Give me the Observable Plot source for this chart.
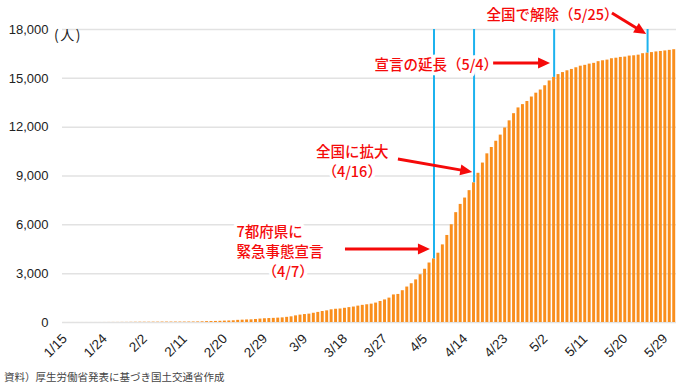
<!DOCTYPE html>
<html>
<head>
<meta charset="utf-8">
<script src="https://cdn.jsdelivr.net/npm/d3@7"></script>
<script src="https://cdn.jsdelivr.net/npm/@observablehq/plot@0.6"></script>
<style>
  body { margin: 0; background: #fff; }
  #chart { position: relative; width: 687px; }
  #unit { position: absolute; left: 54px; top: 26px; font-family: "Noto Sans CJK JP"; font-size: 14px; line-height: 16px; letter-spacing: 1.5px; color: #222; }
  #cap { font-family: "Noto Sans CJK JP"; font-size: 10.5px; color: #444; height: 21px; line-height: 21px; padding-left: 4px; white-space: nowrap; }
</style>
</head>
<body>
<div id="chart"><div id="unit">(人)</div></div>
<div id="cap">資料）厚生労働省発表に基づき国土交通省作成</div>
<script>
// Cumulative confirmed cases (persons), one value per day from 2020-01-15 to 2020-05-31
const startDate = "2020-01-15";
const endDate = "2020-06-01";
const cases = [
  // Jan 15 - Jan 31
  1, 1, 1, 1, 1, 1, 1, 1, 1, 2, 3, 4, 4, 7, 7, 11, 14,
  // Feb 1 - Feb 29
  17, 17, 17, 20, 20, 25, 25, 25, 26, 26, 26, 28, 29, 33, 41, 53, 59, 65, 73, 85,
  93, 105, 132, 144, 157, 164, 186, 210, 230,
  // Mar 1 - Mar 31
  243, 254, 268, 284, 317, 348, 407, 454, 488, 514, 568, 620, 675, 716, 780, 814,
  829, 873, 914, 950, 1007, 1054, 1089, 1128, 1193, 1291, 1387, 1499, 1693, 1724, 1953,
  // Apr 1 - Apr 30
  2178, 2381, 2617, 2935, 3271, 3654, 3906, 4257, 4768, 5347, 6005, 6748, 7255, 7645,
  8100, 8582, 9167, 9795, 10361, 10751, 11135, 11512, 11950, 12388, 12829, 13182,
  13385, 13576, 13852, 14088,
  // May 1 - May 31
  14281, 14544, 14839, 15057, 15231, 15354, 15463, 15547, 15649, 15747, 15798, 15874,
  15921, 16023, 16079, 16120, 16203, 16237, 16285, 16305, 16367, 16385, 16424, 16513,
  16550, 16581, 16623, 16651, 16683, 16719, 16759
];
const tickLabels = ["1/15","1/24","2/2","2/11","2/20","2/29","3/9","3/18","3/27","4/5","4/14","4/23","5/2","5/11","5/20","5/29"];
const yTicks = [0, 3000, 6000, 9000, 12000, 15000, 18000];
const eventDates = ["2020-04-07", "2020-04-16", "2020-05-04", "2020-05-25"];

// annotation texts: position as day offset from startDate and value
const labelText = ["全国で解除（5/25）", "宣言の延長（5/4）", "全国に拡大", "（4/16）", "7都府県に", "緊急事態宣言", "（4/7）"];
const labelDay = [95.3, 70.1, 65.1, 65.1, 39.1, 39.1, 50.7];
const labelValue = [18860, 15790, 10460, 9230, 5550, 4320, 3090];
const labelAnchor = ["start", "start", "middle", "middle", "start", "start", "middle"];

// arrows: from (day, value) to (day, value)
const arrowDay1 = [123.6, 96.9, 75.5, 63.6];
const arrowValue1 = [18980, 15910, 10010, 4490];
const arrowDay2 = [131.3, 109.7, 92.2, 82.7];
const arrowValue2 = [17690, 15910, 9215, 4490];

const ORANGE = "#f98e1d", BLUE = "#1cb2ee", RED = "#f50a0a";

const start = new Date(startDate + "T00:00:00Z");
const dayToDate = (d) => new Date(start.getTime() + d * 864e5);
const data = cases.map((v, i) => ({date: d3.utcDay.offset(start, i), value: v}));
const valueOf = new Map(data.map(d => [d.date.getTime(), d.value]));

const tickDates = tickLabels.map(s => {
  const [m, d] = s.split("/").map(Number);
  return new Date(Date.UTC(2020, m - 1, d, 12));
});
const tickMap = new Map(tickDates.map((d, i) => [d.getTime(), tickLabels[i]]));

const events = eventDates.map(s => {
  const d = new Date(s + "T00:00:00Z");
  return {x: new Date(d.getTime() + 12 * 3600e3), v: valueOf.get(d.getTime())};
});

const labels = labelText.map((t, i) => ({text: t, x: dayToDate(labelDay[i]), y: labelValue[i], anchor: labelAnchor[i]}));
const arrows = arrowDay1.map((d, i) => ({x1: dayToDate(d), y1: arrowValue1[i], x2: dayToDate(arrowDay2[i]), y2: arrowValue2[i]}));

const arrowMark = (index, scales) => {
  const g = d3.create("svg:g");
  for (const a of arrows) {
    const x1 = scales.x(a.x1), y1 = scales.y(a.y1), x2 = scales.x(a.x2), y2 = scales.y(a.y2);
    const ang = Math.atan2(y2 - y1, x2 - x1);
    const L = 12, W = 5.5;
    const c = Math.cos(ang), s = Math.sin(ang);
    const bx = x2 - L * c, by = y2 - L * s;
    g.append("line").attr("x1", x1).attr("y1", y1).attr("x2", bx + 1 * c).attr("y2", by + 1 * s)
      .attr("stroke", RED).attr("stroke-width", 3);
    g.append("path").attr("d", `M${x2},${y2}L${bx - W * s},${by + W * c}L${bx + W * s},${by - W * c}Z`)
      .attr("fill", RED);
  }
  return g.node();
};

const textOpts = {x: "x", y: "y", text: "text", fill: RED, stroke: "white", strokeWidth: 7,
  fontSize: 14.5, fontFamily: "Noto Sans CJK JP", fontWeight: 500, lineAnchor: "middle"};

const chart = Plot.plot({
  width: 687,
  height: 366,
  marginLeft: 62,
  marginRight: 11,
  marginTop: 29,
  marginBottom: 44,
  style: {fontFamily: "'Liberation Sans', 'Noto Sans CJK JP', sans-serif", fontSize: "13px", color: "#222", background: "#fff"},
  x: {type: "utc", domain: [start, new Date(endDate + "T00:00:00Z")]},
  y: {domain: [0, 18000]},
  marks: [
    Plot.gridY(yTicks, {stroke: "#e2e2e2", strokeOpacity: 1, strokeWidth: 1.5}),
    Plot.rectY(data, {x1: "date", x2: d => d3.utcDay.offset(d.date, 1), y: "value", fill: ORANGE, insetLeft: 0.7, insetRight: 0.8}),
    Plot.ruleX(events, {x: "x", y1: "v", y2: 18000, stroke: BLUE, strokeWidth: 2}),
    Plot.text(labels.filter(d => d.anchor === "start"), {...textOpts, textAnchor: "start"}),
    Plot.text(labels.filter(d => d.anchor === "middle"), {...textOpts, textAnchor: "middle"}),
    arrowMark,
    Plot.axisY({ticks: yTicks, tickFormat: d3.format(","), tickSize: 0, tickPadding: 14, fontSize: 13}),
    Plot.axisX({ticks: tickDates, tickFormat: d => tickMap.get(d.getTime()), tickRotate: -45, tickSize: 0, tickPadding: 14, fontSize: 13.5})
  ]
});
document.getElementById("chart").prepend(chart);
</script>
</body>
</html>
